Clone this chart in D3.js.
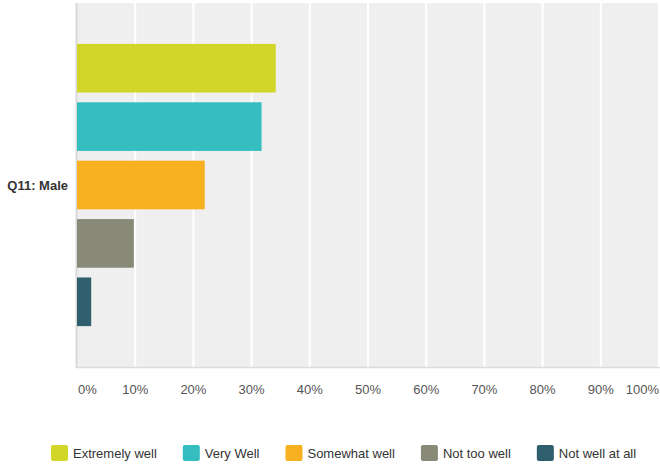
<!DOCTYPE html>
<html>
<head>
<meta charset="utf-8">
<script src="https://cdn.jsdelivr.net/npm/d3@7"></script>
<style>
  html, body { margin: 0; padding: 0; background: #fff; }
  svg { display: block; font-family: "Liberation Sans", Arial, sans-serif; }
</style>
</head>
<body>
<svg id="chart" width="660" height="468"></svg>
<script>
const categories = ["Q11: Male"];
const seriesNames = ["Extremely well", "Very Well", "Somewhat well", "Not too well", "Not well at all"];
const seriesValues = [34.15, 31.71, 21.95, 9.76, 2.44];
const seriesColors = ["#d1d628", "#34bec0", "#f7b01f", "#898977", "#2f5f6c"];
const tickValues = [0, 10, 20, 30, 40, 50, 60, 70, 80, 90, 100];
const tickLabels = ["0%", "10%", "20%", "30%", "40%", "50%", "60%", "70%", "80%", "90%", "100%"];

const svg = d3.select("#chart");
const plot = { left: 77, right: 659, top: 3, bottom: 367 };

const x = d3.scaleLinear().domain([0, 100]).range([plot.left, plot.right]);
const y = d3.scaleBand().domain(categories).range([plot.top, plot.bottom]);
const ySeries = d3.scaleBand().domain(seriesNames).range([0, y.bandwidth()])
  .paddingInner(0.167).paddingOuter(0.7);

// background
svg.append("rect")
  .attr("x", plot.left - 1).attr("y", plot.top)
  .attr("width", 660 - plot.left + 1).attr("height", plot.bottom - plot.top)
  .attr("fill", "#efefef");

// gridlines
svg.append("g").selectAll("line")
  .data(tickValues.filter(d => d > 0))
  .join("line")
  .attr("x1", d => x(d)).attr("x2", d => x(d))
  .attr("y1", plot.top).attr("y2", plot.bottom)
  .attr("stroke", "#ffffff").attr("stroke-width", 2);

// borders
svg.append("line")
  .attr("x1", plot.left - 0.5).attr("x2", plot.left - 0.5)
  .attr("y1", plot.top).attr("y2", plot.bottom + 1)
  .attr("stroke", "#d9d9d9").attr("stroke-width", 2);
svg.append("line")
  .attr("x1", plot.left - 1).attr("x2", 660)
  .attr("y1", plot.bottom + 0.5).attr("y2", plot.bottom + 0.5)
  .attr("stroke", "#dcdcdc").attr("stroke-width", 1.5);

// bars
const g = svg.append("g");
categories.forEach(cat => {
  g.selectAll("rect.bar")
    .data(seriesNames.map((s, i) => ({ s, v: seriesValues[i], c: seriesColors[i] })))
    .join("rect")
    .attr("class", "bar")
    .attr("x", x(0))
    .attr("y", d => y(cat) + ySeries(d.s))
    .attr("width", d => x(d.v) - x(0))
    .attr("height", ySeries.bandwidth())
    .attr("fill", d => d.c);
});

// category label
svg.append("g").selectAll("text")
  .data(categories)
  .join("text")
  .attr("x", 68)
  .attr("y", d => y(d) + y.bandwidth() / 2)
  .attr("dy", "0.35em")
  .attr("text-anchor", "end")
  .attr("font-size", 13)
  .attr("font-weight", "bold")
  .attr("fill", "#333")
  .text(d => d);

// x axis labels
svg.append("g").selectAll("text")
  .data(tickValues)
  .join("text")
  .attr("x", (d, i) => i === 0 ? x(d) + 1 : (i === tickValues.length - 1 ? 659 : x(d)))
  .attr("y", 389)
  .attr("dy", "0.35em")
  .attr("text-anchor", (d, i) => i === 0 ? "start" : (i === tickValues.length - 1 ? "end" : "middle"))
  .attr("font-size", 13)
  .attr("fill", "#555")
  .text((d, i) => tickLabels[i]);

// legend
const legend = svg.append("g");
let lx = 51;
seriesNames.forEach((s, i) => {
  const item = legend.append("g").attr("transform", `translate(${lx},445)`);
  item.append("rect")
    .attr("width", 17).attr("height", 16).attr("rx", 2).attr("ry", 2)
    .attr("fill", seriesColors[i]);
  const t = item.append("text")
    .attr("x", 22).attr("y", 8).attr("dy", "0.35em")
    .attr("font-size", 13).attr("fill", "#333")
    .text(s);
  lx += 22 + t.node().getComputedTextLength() + 26;
});
</script>
</body>
</html>
